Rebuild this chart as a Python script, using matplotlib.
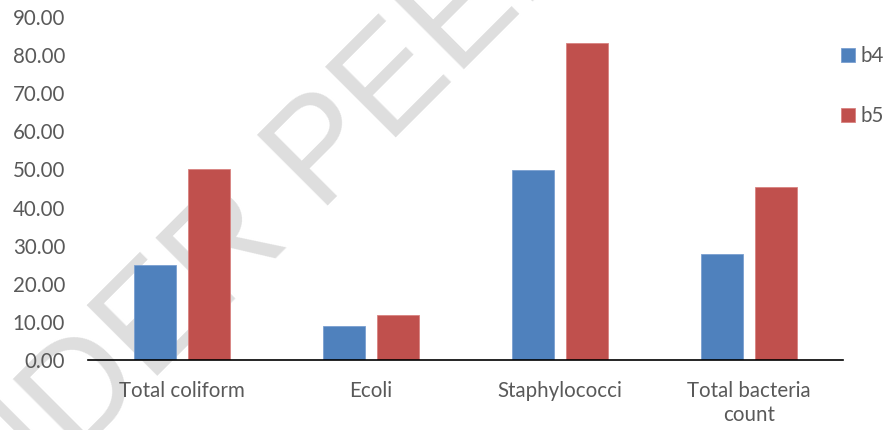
import matplotlib.pyplot as plt
import numpy as np

# data
categories = ['Total coliform', 'Ecoli', 'Staphylococci', 'Total bacteria\ncount']
b4 = [25.0, 8.9, 49.9, 27.8]
b5 = [50.2, 11.7, 83.2, 45.3]
yticks = np.arange(0, 91, 10)

plt.rcParams['font.family'] = ['Lato', 'DejaVu Sans']
grey = '#595959'

fig = plt.figure(figsize=(8.86, 4.30), dpi=100)
ax = fig.add_axes([88 / 886, 70 / 430, 755 / 886, 343 / 430])
ax.patch.set_alpha(0)

x = np.arange(len(categories))
w = 0.223
off = 0.143
ax.bar(x - off, b4, w, color='#4F81BD', edgecolor='#7A9FD0', linewidth=0.6, label='b4', zorder=2)
ax.bar(x + off, b5, w, color='#C0504D', edgecolor='#D88280', linewidth=0.6, label='b5', zorder=2)

ax.set_xlim(-0.5, len(categories) - 0.5)
ax.set_ylim(0, 90)
ax.set_yticks(yticks)
ax.set_yticklabels(['%.2f' % v for v in yticks])
ax.set_xticks(x)
ax.set_xticklabels(categories, linespacing=1.25)
ax.tick_params(axis='y', length=0, pad=16.5, labelsize=14.8, labelcolor=grey)
ax.tick_params(axis='x', length=0, pad=15, labelsize=14.8, labelcolor=grey)
for s in ['left', 'right', 'top']:
    ax.spines[s].set_visible(False)
ax.spines['bottom'].set_linewidth(1.2)
ax.spines['bottom'].set_color('black')

ax.legend(loc='upper left', bbox_to_anchor=(831 / 886, 1 - 36 / 430),
          bbox_transform=fig.transFigure, frameon=False, fontsize=14.8,
          labelcolor=grey, handlelength=0.65, handleheight=0.65,
          handletextpad=0.3, labelspacing=1.95, borderpad=0)

# watermark behind the bars
fig.text(-72 / 886, 1 - 605 / 430, 'UNDER PEER REVIEW', fontsize=104,
         family='Liberation Sans', color='#DEDEDE', rotation=45,
         rotation_mode='anchor', ha='left', va='baseline', zorder=-1)

fig.savefig('out.png', dpi=100)
